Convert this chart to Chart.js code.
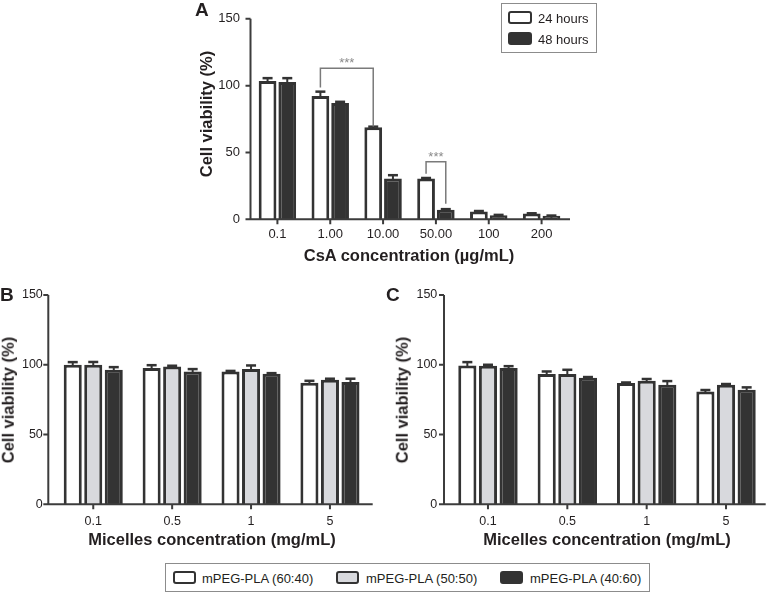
<!DOCTYPE html>
<html lang="en">
<head>
<meta charset="UTF-8">
<title>Cell viability</title>
<script src="https://cdn.jsdelivr.net/npm/chart.js@4.4.1/dist/chart.umd.js"></script>
<style>
  body { margin: 0; background: #fff; }
  #page { position: relative; width: 768px; height: 593px; overflow: hidden;
          font-family: "Liberation Sans", Arial, Helvetica, sans-serif; color: #231f20; }
  canvas { position: absolute; }
  .t { position: absolute; white-space: nowrap; line-height: 1; }
  .c { transform: translate(-50%, -50%); }
  .v { transform: translate(-50%, -50%) rotate(-90deg); }
  .title { font-weight: bold; font-size: 16.5px; }
  .panel { font-weight: bold; font-size: 19px; }
  .box { position: absolute; border: 1.5px solid #8c8c8c; box-sizing: border-box; }
  .sw { position: absolute; width: 24px; height: 13px; border: 2px solid #333;
        border-radius: 3px; box-sizing: border-box; }
  .lt { position: absolute; font-size: 13px; line-height: 1; transform: translateY(-50%); white-space: nowrap; }
</style>
</head>
<body>
<div id="page">
  <canvas id="chartA" width="400" height="250" style="left:180px;top:0"></canvas>
  <canvas id="chartB" width="384" height="265" style="left:0;top:270px"></canvas>
  <canvas id="chartC" width="384" height="265" style="left:384px;top:270px"></canvas>

  <div class="t panel" style="left:195px;top:0">A</div>
  <div class="t panel" style="left:0;top:285px">B</div>
  <div class="t panel" style="left:386px;top:285px">C</div>

  <div class="t title v" style="left:206px;top:114px">Cell viability (%)</div>
  <div class="t title v" style="left:8px;top:400px">Cell viability (%)</div>
  <div class="t title v" style="left:402px;top:400px">Cell viability (%)</div>

  <div class="t title c" style="left:409px;top:255px">CsA concentration (µg/mL)</div>
  <div class="t title c" style="left:212px;top:539px">Micelles concentration (mg/mL)</div>
  <div class="t title c" style="left:607px;top:539px">Micelles concentration (mg/mL)</div>

  <!-- panel A legend -->
  <div class="box" style="left:501px;top:3px;width:96px;height:50px"></div>
  <div class="sw" style="left:508px;top:11px;background:#fff"></div>
  <div class="lt" style="left:538px;top:17.5px">24 hours</div>
  <div class="sw" style="left:508px;top:32px;background:#333"></div>
  <div class="lt" style="left:538px;top:38.5px">48 hours</div>

  <!-- shared legend for B and C -->
  <div class="box" style="left:165px;top:563px;width:485px;height:29px"></div>
  <div class="sw" style="left:173px;top:571px;width:23px;background:#fff"></div>
  <div class="lt" style="left:202px;top:577.5px">mPEG-PLA (60:40)</div>
  <div class="sw" style="left:336px;top:571px;width:23px;background:#d8d9dd"></div>
  <div class="lt" style="left:366px;top:577.5px">mPEG-PLA (50:50)</div>
  <div class="sw" style="left:500px;top:571px;width:23px;background:#333"></div>
  <div class="lt" style="left:530px;top:577.5px">mPEG-PLA (40:60)</div>
</div>

<script>
// panel A: CsA
const csaLabels = ['0.1', '1.00', '10.00', '50.00', '100', '200'];
const csa24h = [103.4, 92.2, 68.8, 30.5, 5.9, 4.3];
const csa24hErr = [2.2, 3.3, 0.5, 0.4, 0.3, 0.2];
const csa48h = [102.7, 87.1, 30.5, 7.2, 3.1, 2.6];
const csa48hErr = [2.9, 0.8, 2.5, 0.4, 0.2, 0.2];
const csaBrackets = [
  { from: [1, 0], to: [2, 0], top: 113, legFrom: 98.6, legTo: 69.5, label: '***' },
  { from: [3, 0], to: [3, 1], top: 43, legFrom: 34, legTo: 11.7, label: '***' }
];

// panels B and C: blank micelles
const micelleLabels = ['0.1', '0.5', '1', '5'];
const b6040 = [100.0, 97.6, 95.2, 87.1];
const b6040Err = [1.9, 2.1, 0.4, 1.4];
const b5050 = [100.0, 98.8, 96.9, 89.3];
const b5050Err = [2.0, 0.5, 2.6, 0.7];
const b4060 = [96.4, 95.2, 93.6, 87.6];
const b4060Err = [1.9, 1.7, 0.4, 2.4];
const c6040 = [99.5, 93.3, 86.9, 80.9];
const c6040Err = [2.4, 1.9, 0.4, 1.0];
const c5050 = [99.3, 93.3, 88.5, 85.7];
const c5050Err = [0.7, 3.1, 1.3, 0.5];
const c4060 = [97.6, 90.7, 85.7, 82.1];
const c4060Err = [1.4, 0.5, 2.6, 1.7];

const yTicks = [0, 50, 100, 150];

const family = '"Liberation Sans", Arial, Helvetica, sans-serif';
const WHITE = '#ffffff', GREY = '#d8d9dd', DARK = '#333333';

// GraphPad style axes: y axis sits a little left of the first category
const gpAxes = {
  id: 'gpAxes',
  afterDatasetsDraw(chart, args, o) {
    const { ctx, chartArea: a, scales: { x, y } } = chart;
    const ax = a.left + o.off;
    ctx.save();
    ctx.strokeStyle = '#3c3c3c';
    ctx.lineWidth = 2;
    ctx.beginPath();
    ctx.moveTo(ax, a.top);
    ctx.lineTo(ax, a.bottom);
    ctx.lineTo(a.right + o.ext, a.bottom);
    y.ticks.forEach(t => {
      const py = y.getPixelForValue(t.value);
      ctx.moveTo(ax - 5, py);
      ctx.lineTo(ax, py);
    });
    x.ticks.forEach((t, i) => {
      const px = x.getPixelForValue(i);
      ctx.moveTo(px, a.bottom);
      ctx.lineTo(px, a.bottom + 5);
    });
    ctx.stroke();
    ctx.restore();
  }
};

// upper half error bars (mean + SD)
const errorBars = {
  id: 'errorBars',
  afterDatasetsDraw(chart) {
    const { ctx, scales: { y } } = chart;
    ctx.save();
    ctx.strokeStyle = '#333';
    chart.data.datasets.forEach((ds, di) => {
      chart.getDatasetMeta(di).data.forEach((bar, i) => {
        const top = y.getPixelForValue(ds.data[i] + ds.err[i]);
        ctx.lineWidth = 2;
        ctx.beginPath();
        ctx.moveTo(bar.x, bar.y + 2);
        ctx.lineTo(bar.x, top);
        ctx.stroke();
        ctx.lineWidth = 2.5;
        ctx.beginPath();
        ctx.moveTo(bar.x - 5, top);
        ctx.lineTo(bar.x + 5, top);
        ctx.stroke();
      });
    });
    ctx.restore();
  }
};

const brackets = {
  id: 'brackets',
  afterDatasetsDraw(chart, args, o) {
    if (!o.list) return;
    const { ctx, scales: { y } } = chart;
    const barX = ([cat, ds]) => chart.getDatasetMeta(ds).data[cat].x;
    ctx.save();
    ctx.strokeStyle = '#7a7a7a';
    ctx.lineWidth = 1.5;
    ctx.fillStyle = '#8a8a8a';
    ctx.font = '13px ' + family;
    ctx.textAlign = 'center';
    ctx.textBaseline = 'alphabetic';
    o.list.forEach(b => {
      const x1 = barX(b.from), x2 = barX(b.to), yt = y.getPixelForValue(b.top);
      ctx.beginPath();
      ctx.moveTo(x1, y.getPixelForValue(b.legFrom));
      ctx.lineTo(x1, yt);
      ctx.lineTo(x2, yt);
      ctx.lineTo(x2, y.getPixelForValue(b.legTo));
      ctx.stroke();
      ctx.fillText(b.label, (x1 + x2) / 2, yt - 1);
    });
    ctx.restore();
  }
};

function makeChart(id, labels, sets, opt) {
  return new Chart(document.getElementById(id), {
    type: 'bar',
    data: {
      labels: labels,
      datasets: sets.map(s => ({
        data: s.data,
        err: s.err,
        backgroundColor: s.fill,
        borderColor: '#333',
        borderWidth: 3,
        categoryPercentage: opt.cat,
        barPercentage: opt.bar
      }))
    },
    options: {
      responsive: false,
      animation: false,
      events: [],
      layout: { padding: opt.pad },
      plugins: {
        legend: { display: false },
        tooltip: { enabled: false },
        gpAxes: opt.axes,
        brackets: { list: opt.brackets }
      },
      scales: {
        x: {
          grid: { display: false, drawTicks: false },
          border: { display: false },
          ticks: { font: { size: opt.font, family: family }, color: '#231f20', padding: opt.xpad,
                   maxRotation: 0, autoSkip: false },
          afterFit: s => { s.height = opt.xh; }
        },
        y: {
          min: 0,
          max: 150,
          afterBuildTicks: s => { s.ticks = yTicks.map(v => ({ value: v })); },
          grid: { display: false, drawTicks: false },
          border: { display: false },
          ticks: { font: { size: opt.font, family: family }, color: '#231f20', padding: 11 },
          afterFit: s => { s.width = opt.yw; }
        }
      }
    },
    plugins: [gpAxes, errorBars, brackets]
  });
}

makeChart('chartA', csaLabels, [
  { data: csa24h, err: csa24hErr, fill: WHITE },
  { data: csa48h, err: csa48hErr, fill: DARK }
], { cat: 0.746, bar: 0.9, pad: { top: 10, right: 12, left: 0, bottom: 0 },
     yw: 71, xh: 30.7, font: 13, xpad: 7, axes: { off: -0.5, ext: 2 }, brackets: csaBrackets });

makeChart('chartB', micelleLabels, [
  { data: b6040, err: b6040Err, fill: WHITE },
  { data: b5050, err: b5050Err, fill: GREY },
  { data: b4060, err: b4060Err, fill: DARK }
], { cat: 0.78, bar: 0.88, pad: { top: 25, right: 14.6, left: 0, bottom: 0 },
     yw: 53.8, xh: 30.7, font: 12.5, xpad: 10, axes: { off: -5.5, ext: 3.3 } });

makeChart('chartC', micelleLabels, [
  { data: c6040, err: c6040Err, fill: WHITE },
  { data: c5050, err: c5050Err, fill: GREY },
  { data: c4060, err: c4060Err, fill: DARK }
], { cat: 0.78, bar: 0.88, pad: { top: 25, right: 2.3, left: 0, bottom: 0 },
     yw: 64.3, xh: 30.7, font: 12.5, xpad: 10, axes: { off: -4.3, ext: 0 } });
</script>
</body>
</html>
